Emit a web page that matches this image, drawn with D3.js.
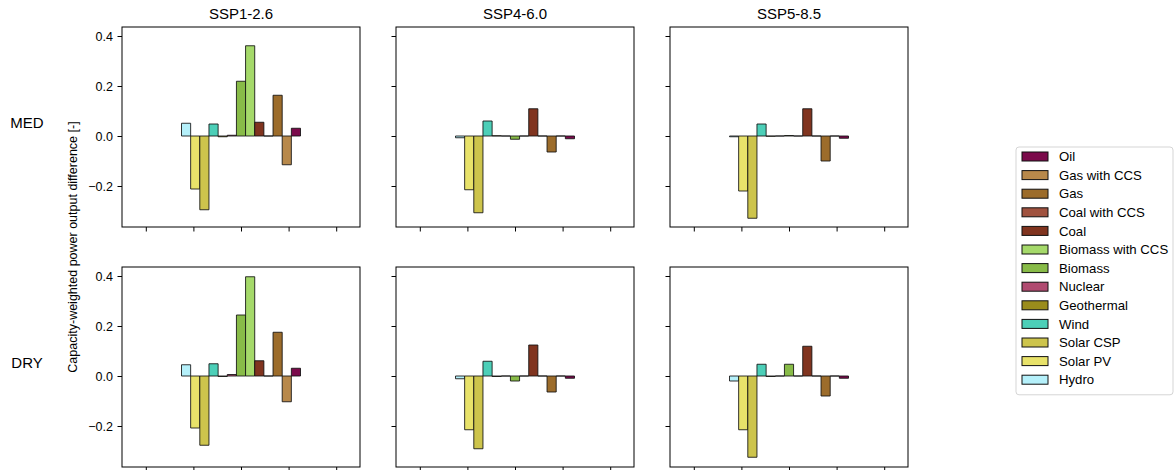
<!DOCTYPE html>
<html>
<head>
<meta charset="utf-8">
<script src="https://cdn.jsdelivr.net/npm/d3@7/dist/d3.min.js"></script>
<style>
  html, body { margin: 0; padding: 0; background: #fff; }
  svg { display: block; font-family: "Liberation Sans", Arial, Helvetica, sans-serif; }
</style>
</head>
<body>
<svg id="chart" width="1175" height="470"></svg>
<script>
// ---- data ----
const categories = ["Hydro", "Solar PV", "Solar CSP", "Wind", "Geothermal", "Nuclear", "Biomass",
  "Biomass with CCS", "Coal", "Coal with CCS", "Gas", "Gas with CCS", "Oil"];
const colors = ["#b5f0fa", "#e8e26a", "#cdc44c", "#4ccfb8", "#9a8c1c", "#b04a70", "#88bb48",
  "#a5d96a", "#80341f", "#a0523f", "#9c6c2b", "#b8894b", "#7b0a4b"];
const scenarios = ["SSP1-2.6", "SSP4-6.0", "SSP5-8.5"];
const rows = ["MED", "DRY"];
const yTicks = [-0.2, 0.0, 0.2, 0.4];
const xTicks = [-0.4, -0.2, 0.0, 0.2, 0.4];

const medSSP126 = [0.051, -0.212, -0.295, 0.048, -0.003, 0.003, 0.219, 0.361, 0.055, 0, 0.163, -0.115, 0.031];
const medSSP460 = [-0.007, -0.215, -0.307, 0.060, 0.001, 0, -0.013, 0, 0.109, 0, -0.064, 0, -0.011];
const medSSP585 = [-0.003, -0.220, -0.329, 0.048, -0.001, 0, 0.002, 0, 0.109, 0, -0.100, 0, -0.009];
const drySSP126 = [0.045, -0.208, -0.277, 0.049, -0.002, 0.006, 0.244, 0.397, 0.061, 0, 0.175, -0.103, 0.031];
const drySSP460 = [-0.011, -0.215, -0.291, 0.059, -0.002, 0, -0.020, 0, 0.124, 0, -0.064, 0, -0.009];
const drySSP585 = [-0.020, -0.215, -0.325, 0.047, -0.002, 0, 0.047, 0, 0.119, 0, -0.080, 0, -0.009];

const panelData = [[medSSP126, medSSP460, medSSP585], [drySSP126, drySSP460, drySSP585]];

// ---- layout ----
const svg = d3.select("#chart");
const pw = 238, ph = 200;
const px0 = [122, 396, 670];
const py0 = [27, 267];
const groupWidth = 0.5;
const bw = groupWidth / categories.length;

const x = d3.scaleLinear().domain([-0.5, 0.5]).range([0, pw]);
const y = d3.scaleLinear().domain([-0.364, 0.436]).range([ph, 0]);

rows.forEach((row, r) => {
  scenarios.forEach((sc, c) => {
    const g = svg.append("g").attr("transform", `translate(${px0[c]},${py0[r]})`);
    const vals = panelData[r][c];

    // bars (paths so zero-height bars still show their edge)
    g.selectAll("path.bar").data(vals).enter().append("path")
      .attr("class", "bar")
      .attr("d", (v, i) => {
        const x0 = x(-groupWidth / 2 + i * bw), x1 = x(-groupWidth / 2 + (i + 1) * bw);
        const y0 = y(0), y1 = y(v);
        return `M${x0},${y0}L${x1},${y0}L${x1},${y1}L${x0},${y1}Z`;
      })
      .attr("fill", (v, i) => colors[i])
      .attr("stroke", "#111")
      .attr("stroke-opacity", 0.85)
      .attr("stroke-width", 1);

    // y axis
    const ya = d3.axisLeft(y).tickValues(yTicks).tickSize(4.5).tickPadding(4.5)
      .tickFormat(c === 0 ? d3.format(".1f") : () => "");
    const yg = g.append("g").call(ya);
    yg.select(".domain").remove();
    yg.selectAll("text").attr("font-size", 12.5).attr("fill", "#000").attr("font-family", null);
    yg.selectAll("line").attr("stroke", "#000");

    // x axis
    const xa = d3.axisBottom(x).tickValues(xTicks).tickSize(4.5).tickFormat(() => "");
    const xg = g.append("g").attr("transform", `translate(0,${ph})`).call(xa);
    xg.select(".domain").remove();
    xg.selectAll("line").attr("stroke", "#000");

    // frame
    g.append("rect").attr("x", 0).attr("y", 0).attr("width", pw).attr("height", ph)
      .attr("fill", "none").attr("stroke", "#000").attr("stroke-width", 1);

    if (r === 0) {
      svg.append("text").attr("x", px0[c] + pw / 2).attr("y", 19)
        .attr("text-anchor", "middle").attr("font-size", 15).text(sc);
    }
  });
  svg.append("text").attr("x", 27).attr("y", py0[r] + ph / 2 + 1)
    .attr("text-anchor", "middle").attr("font-size", 15).text(row);
});

// y label
svg.append("text")
  .attr("transform", `translate(77,${(py0[0] + py0[1] + ph) / 2}) rotate(-90)`)
  .attr("text-anchor", "middle").attr("font-size", 12.5)
  .text("Capacity-weighted power output difference [-]");

// legend
const lg = svg.append("g").attr("transform", "translate(1016,147)");
const legendOrder = categories.map((d, i) => i).reverse();
const rowH = 18.6;
lg.append("rect").attr("x", 0).attr("y", 0).attr("width", 157)
  .attr("height", rowH * legendOrder.length + 6).attr("rx", 3)
  .attr("fill", "#fff").attr("stroke", "#d5d5d5").attr("stroke-width", 1);
legendOrder.forEach((ci, k) => {
  const cy = 9.5 + k * rowH;
  lg.append("rect").attr("x", 6).attr("y", cy - 4.5).attr("width", 26).attr("height", 9)
    .attr("fill", colors[ci]).attr("stroke", "#111").attr("stroke-width", 1);
  lg.append("text").attr("x", 43).attr("y", cy + 4.7).attr("font-size", 13.2).text(categories[ci]);
});
</script>
</body>
</html>
